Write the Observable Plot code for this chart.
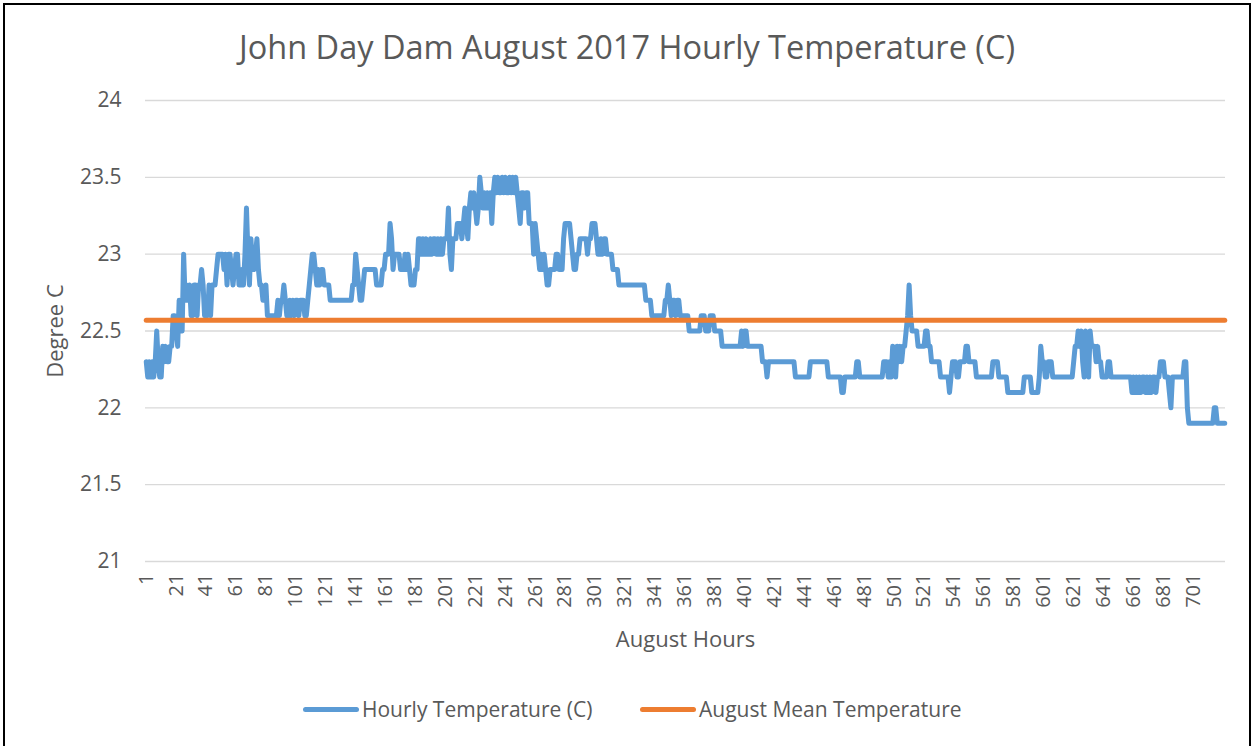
<!DOCTYPE html>
<html>
<head>
<meta charset="utf-8">
<script src="https://cdn.jsdelivr.net/npm/d3@7"></script>
<script src="https://cdn.jsdelivr.net/npm/@observablehq/plot@0.6"></script>
<style>
  html, body { margin: 0; padding: 0; background: #fff; overflow: hidden; }
  #page { position: relative; width: 1254px; height: 746px; font-family: "Open Sans", sans-serif; color: #595959; overflow: hidden; }
  #frame { position: absolute; left: 3px; top: 3px; width: 1248px; height: 760px; border: 2px solid #000; box-sizing: border-box; }
  #title { position: absolute; left: 0; top: 0; width: 1254px; height: 94px; line-height: 94px; text-align: center; font-size: 32.5px; color: #595959; }
  #chart { position: absolute; left: 0; top: 80px; }
  .sw { position: absolute; height: 5px; border-radius: 3px; top: 707px; }
  .lt { position: absolute; top: 694px; line-height: 30px; font-size: 21px; color: #595959; white-space: nowrap; }
  g[aria-label="x-axis label"] text, g[aria-label="y-axis label"] text { font-size: 22px; }
  g[aria-label="y-axis tick label"] text { font-size: 21px; }
</style>
</head>
<body>
<div id="page">
  <div id="frame"></div>
  <div id="title">John Day Dam August 2017 Hourly Temperature (C)</div>
  <div id="chart"></div>
  <div class="sw" style="left:303px;width:56px;background:#5B9BD5"></div>
  <div class="lt" style="left:362px">Hourly Temperature (C)</div>
  <div class="sw" style="left:640px;width:56px;background:#ED7D31"></div>
  <div class="lt" style="left:699px">August Mean Temperature</div>
</div>
<script>
// Hourly water temperature (°C), August 2017, hours 1..722
const temps = [
  22.3,22.2,22.3,22.2,22.3,22.2,22.3,22.5,22.3,22.2,
  22.2,22.4,22.3,22.4,22.3,22.3,22.4,22.4,22.6,22.6,
  22.5,22.4,22.7,22.6,22.5,23.0,22.7,22.8,22.7,22.8,
  22.6,22.6,22.8,22.8,22.6,22.8,22.8,22.9,22.8,22.6,
  22.7,22.6,22.8,22.6,22.8,22.8,22.8,22.9,23.0,23.0,
  23.0,23.0,22.9,23.0,22.8,23.0,23.0,22.9,22.8,22.9,
  23.0,23.0,22.8,22.8,22.9,22.8,23.0,23.3,23.0,22.8,
  23.1,22.9,22.9,23.0,23.1,22.9,22.8,22.8,22.7,22.7,
  22.8,22.6,22.6,22.6,22.6,22.6,22.6,22.6,22.7,22.6,
  22.7,22.7,22.8,22.7,22.6,22.6,22.7,22.6,22.7,22.6,
  22.7,22.7,22.6,22.7,22.7,22.7,22.6,22.6,22.7,22.8,
  22.9,23.0,23.0,22.9,22.8,22.9,22.8,22.9,22.9,22.8,
  22.8,22.8,22.8,22.7,22.7,22.7,22.7,22.7,22.7,22.7,
  22.7,22.7,22.7,22.7,22.7,22.7,22.7,22.7,22.8,22.8,
  23.0,22.9,22.8,22.7,22.7,22.8,22.9,22.9,22.9,22.9,
  22.9,22.9,22.9,22.9,22.8,22.8,22.8,22.8,22.9,22.9,
  23.0,23.0,23.0,23.2,23.1,22.9,23.0,23.0,23.0,23.0,
  22.9,22.9,22.9,23.0,22.9,23.0,22.9,22.8,22.8,22.8,
  22.9,22.9,23.1,23.1,23.0,23.1,23.0,23.1,23.0,23.0,
  23.1,23.0,23.1,23.1,23.0,23.1,23.0,23.1,23.0,23.1,
  23.1,23.1,23.3,23.0,22.9,23.1,23.1,23.1,23.2,23.2,
  23.2,23.1,23.2,23.3,23.2,23.1,23.3,23.4,23.3,23.4,
  23.3,23.2,23.3,23.5,23.4,23.3,23.4,23.3,23.4,23.3,
  23.4,23.2,23.4,23.5,23.4,23.5,23.4,23.4,23.5,23.4,
  23.5,23.4,23.4,23.5,23.4,23.5,23.4,23.5,23.4,23.3,
  23.2,23.4,23.4,23.3,23.4,23.4,23.2,23.2,23.2,23.0,
  23.2,23.1,23.0,22.9,23.0,22.9,23.0,22.9,22.8,22.8,
  22.9,22.9,22.9,22.9,23.0,23.0,22.9,22.9,22.9,23.1,
  23.2,23.2,23.2,23.2,23.1,23.0,22.9,22.9,23.0,23.0,
  23.1,23.1,23.1,23.1,23.1,23.0,23.1,23.1,23.2,23.2,
  23.2,23.1,23.0,23.0,23.1,23.0,23.1,23.1,23.0,23.0,
  23.0,23.0,22.9,22.9,22.9,22.9,22.8,22.8,22.8,22.8,
  22.8,22.8,22.8,22.8,22.8,22.8,22.8,22.8,22.8,22.8,
  22.8,22.8,22.8,22.8,22.7,22.7,22.7,22.7,22.6,22.6,
  22.6,22.6,22.6,22.6,22.6,22.6,22.6,22.7,22.7,22.8,
  22.7,22.6,22.7,22.7,22.6,22.7,22.7,22.6,22.6,22.6,
  22.6,22.6,22.6,22.5,22.5,22.5,22.5,22.5,22.5,22.5,
  22.5,22.6,22.6,22.6,22.5,22.5,22.5,22.6,22.6,22.6,
  22.5,22.5,22.5,22.5,22.5,22.4,22.4,22.4,22.4,22.4,
  22.4,22.4,22.4,22.4,22.4,22.4,22.4,22.4,22.5,22.4,
  22.5,22.5,22.4,22.4,22.4,22.4,22.4,22.4,22.4,22.4,
  22.4,22.4,22.3,22.3,22.3,22.2,22.3,22.3,22.3,22.3,
  22.3,22.3,22.3,22.3,22.3,22.3,22.3,22.3,22.3,22.3,
  22.3,22.3,22.3,22.3,22.2,22.2,22.2,22.2,22.2,22.2,
  22.2,22.2,22.2,22.2,22.3,22.3,22.3,22.3,22.3,22.3,
  22.3,22.3,22.3,22.3,22.3,22.3,22.2,22.2,22.2,22.2,
  22.2,22.2,22.2,22.2,22.2,22.1,22.1,22.2,22.2,22.2,
  22.2,22.2,22.2,22.2,22.2,22.3,22.3,22.2,22.2,22.2,
  22.2,22.2,22.2,22.2,22.2,22.2,22.2,22.2,22.2,22.2,
  22.2,22.2,22.2,22.3,22.3,22.3,22.2,22.3,22.2,22.4,
  22.3,22.2,22.4,22.3,22.4,22.3,22.4,22.4,22.5,22.6,
  22.8,22.6,22.5,22.5,22.5,22.5,22.4,22.4,22.4,22.4,
  22.4,22.5,22.5,22.4,22.4,22.3,22.3,22.3,22.3,22.3,
  22.3,22.2,22.2,22.2,22.2,22.2,22.2,22.1,22.2,22.3,
  22.3,22.3,22.2,22.2,22.3,22.3,22.3,22.3,22.4,22.4,
  22.3,22.3,22.3,22.3,22.3,22.2,22.2,22.2,22.2,22.2,
  22.2,22.2,22.2,22.2,22.2,22.2,22.3,22.3,22.3,22.3,
  22.2,22.2,22.2,22.2,22.2,22.2,22.1,22.1,22.1,22.1,
  22.1,22.1,22.1,22.1,22.1,22.1,22.1,22.2,22.2,22.2,
  22.2,22.2,22.1,22.1,22.1,22.1,22.1,22.2,22.4,22.3,
  22.3,22.2,22.2,22.3,22.3,22.3,22.2,22.2,22.2,22.2,
  22.2,22.2,22.2,22.2,22.2,22.2,22.2,22.2,22.2,22.2,
  22.3,22.4,22.4,22.5,22.4,22.5,22.3,22.2,22.5,22.3,
  22.2,22.5,22.4,22.4,22.4,22.3,22.4,22.3,22.3,22.2,
  22.2,22.2,22.2,22.3,22.3,22.2,22.2,22.2,22.2,22.2,
  22.2,22.2,22.2,22.2,22.2,22.2,22.2,22.2,22.2,22.1,
  22.2,22.1,22.2,22.1,22.2,22.1,22.2,22.2,22.1,22.2,
  22.1,22.2,22.1,22.2,22.2,22.1,22.2,22.2,22.3,22.3,
  22.3,22.2,22.2,22.2,22.1,22.0,22.2,22.2,22.2,22.2,
  22.2,22.2,22.2,22.2,22.3,22.3,22.0,21.9,21.9,21.9,
  21.9,21.9,21.9,21.9,21.9,21.9,21.9,21.9,21.9,21.9,
  21.9,21.9,21.9,21.9,22.0,22.0,21.9,21.9,21.9,21.9,
  21.9,21.9
];
// August mean temperature (°C)
const meanTemp = 22.57;
// Axis ticks
const xTicks = [1,21,41,61,81,101,121,141,161,181,201,221,241,261,281,301,321,341,361,381,401,421,441,461,481,501,521,541,561,581,601,621,641,661,681,701];
const yTicks = [21, 21.5, 22, 22.5, 23, 23.5, 24];

const hourly = temps.map((t, i) => ({hour: i + 1, temp: t}));
const meanRows = hourly.map(d => ({hour: d.hour, temp: meanTemp}));

const chart = Plot.plot({
  width: 1254,
  height: 590,
  marginTop: 20,
  marginBottom: 109,
  marginLeft: 145,
  marginRight: 29,
  style: {fontFamily: "Open Sans, sans-serif", fontSize: "20px", color: "#595959", background: "transparent", overflow: "visible"},
  x: {domain: [0.5, temps.length + 0.5], ticks: xTicks, tickFormat: d => String(d), tickSize: 0, tickPadding: 12, tickRotate: -90,
      label: "August Hours", labelAnchor: "center", labelArrow: "none", labelOffset: 85},
  y: {domain: [21, 24], ticks: yTicks, tickFormat: d => String(d), tickSize: 0, tickPadding: 24,
      label: "Degree C", labelAnchor: "center", labelArrow: "none", labelOffset: 98},
  marks: [
    Plot.ruleY(yTicks, {stroke: "#d9d9d9", strokeWidth: 1.3}),
    Plot.lineY(hourly, {x: "hour", y: "temp", stroke: "#5B9BD5", strokeWidth: 5, strokeLinejoin: "round", strokeLinecap: "round"}),
    Plot.lineY(meanRows, {x: "hour", y: "temp", stroke: "#ED7D31", strokeWidth: 5, strokeLinecap: "round"})
  ]
});
document.getElementById("chart").appendChild(chart);
</script>
</body>
</html>
